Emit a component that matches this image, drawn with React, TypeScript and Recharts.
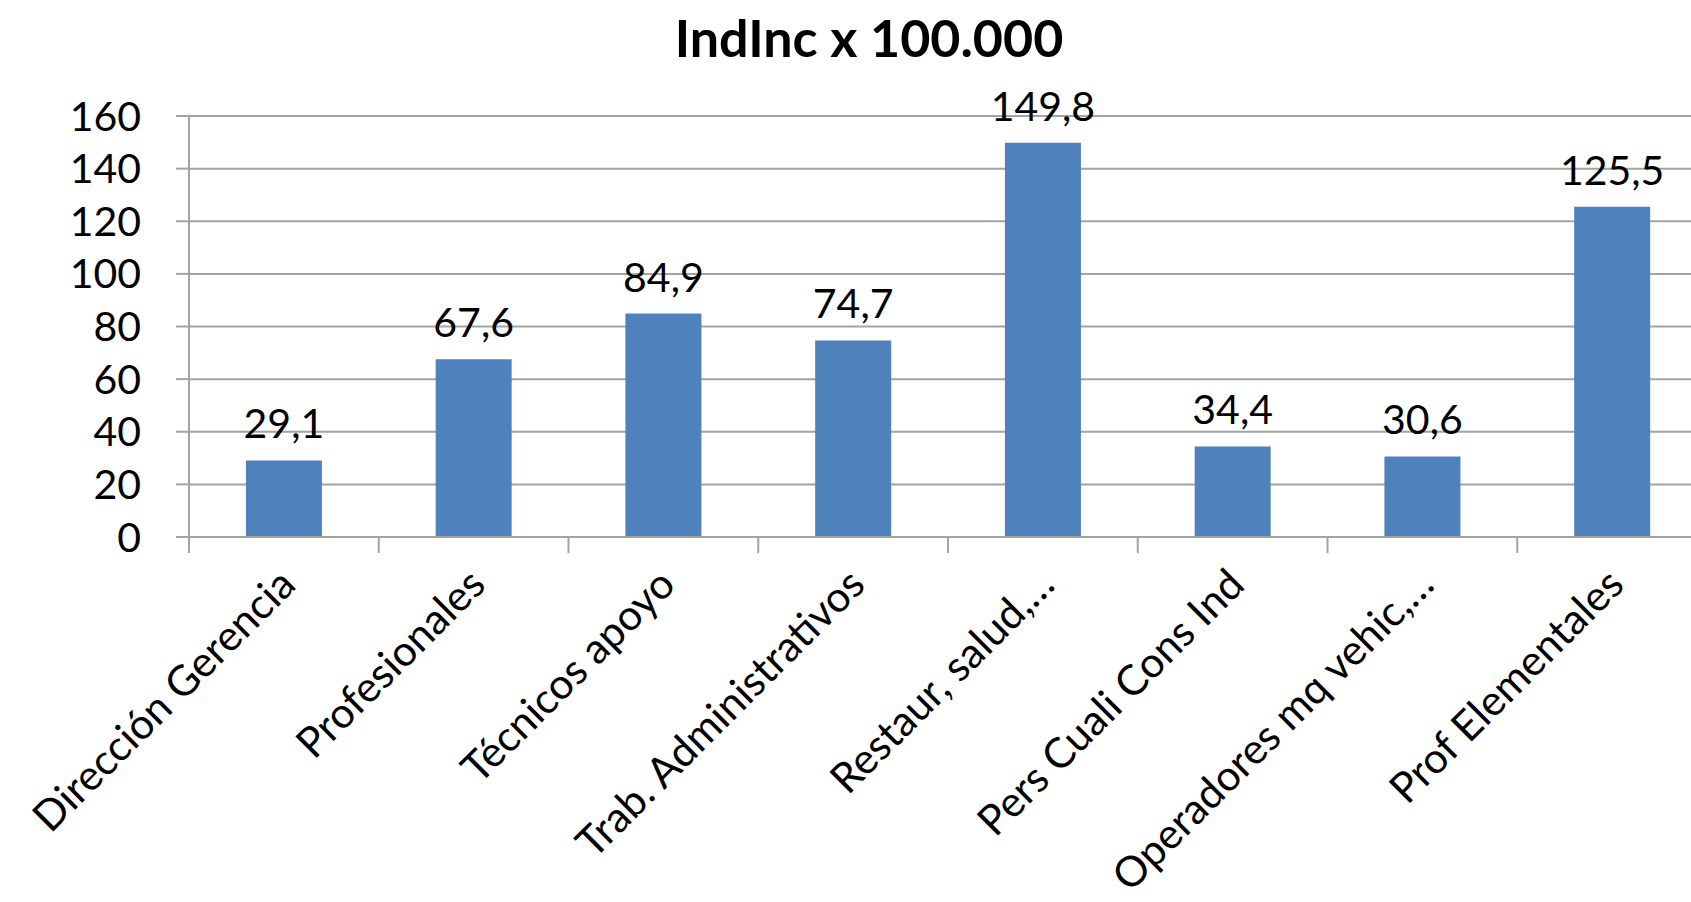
import * as React from "react";
import { BarChart, Bar, XAxis, YAxis, CartesianGrid, LabelList } from "recharts";

const categories = [
  "Dirección Gerencia",
  "Profesionales",
  "Técnicos apoyo",
  "Trab. Administrativos",
  "Restaur, salud,…",
  "Pers Cuali Cons Ind",
  "Operadores mq vehic,…",
  "Prof Elementales",
];
const values = [29.1, 67.6, 84.9, 74.7, 149.8, 34.4, 30.6, 125.5];
const yTicks = [0, 20, 40, 60, 80, 100, 120, 140, 160];

const data = categories.map((name, i) => ({ name, v: values[i] }));

const FONT = "Lato, 'Open Sans', sans-serif";
const GRID = "#a3a3a3";

function fmt(v: number) {
  return v.toFixed(1).replace(".", ",");
}

// rotated category label plus a tick mark on the left edge of its band
function CatTick(props: any) {
  const { x, y, payload } = props;
  const half = payload?.offset ?? 0;
  const ax = x + 14;
  const ay = y + 42;
  return (
    <g>
      <line x1={x - half} x2={x - half} y1={y - 8} y2={y + 8} stroke={GRID} strokeWidth={2} />
      <text
        x={ax}
        y={ay}
        textAnchor="end"
        transform={`rotate(-45, ${ax}, ${ay})`}
        fontSize={42}
        fontFamily={FONT}
        fill="#000"
      >
        {payload.value}
      </text>
    </g>
  );
}

export default function App() {
  return (
    <div
      style={{
        position: "absolute",
        left: 0,
        top: 0,
        width: 1691,
        height: 902,
        overflow: "hidden",
        background: "#fff",
      }}
    >
      <div
        style={{
          position: "absolute",
          left: 0,
          top: 9,
          width: 1738,
          textAlign: "center",
          fontFamily: FONT,
          fontWeight: 700,
          fontSize: 52,
          lineHeight: "56px",
          color: "#000",
        }}
      >
        IndInc x 100.000
      </div>
      <BarChart
        width={1720}
        height={902}
        data={data}
        margin={{ top: 116, right: 13, left: 0, bottom: 0 }}
        barCategoryGap="30%"
      >
        <CartesianGrid vertical={false} stroke={GRID} strokeWidth={2} />
        <XAxis
          dataKey="name"
          height={365}
          interval={0}
          axisLine={{ stroke: GRID, strokeWidth: 2 }}
          tickLine={false}
          tick={<CatTick />}
        />
        <YAxis
          width={189}
          domain={[0, 160]}
          ticks={yTicks}
          interval={0}
          tickSize={13}
          tickMargin={35}
          axisLine={{ stroke: GRID, strokeWidth: 2 }}
          tickLine={{ stroke: GRID, strokeWidth: 2 }}
          tick={{ fontSize: 41, fontFamily: FONT, fill: "#000" }}
        />
        <Bar dataKey="v" fill="#4f81bd" isAnimationActive={false}>
          <LabelList
            dataKey="v"
            position="top"
            offset={22}
            formatter={(v: any) => fmt(Number(v))}
            style={{ fontSize: 41, fontFamily: FONT, fill: "#000" }}
          />
        </Bar>
      </BarChart>
    </div>
  );
}
